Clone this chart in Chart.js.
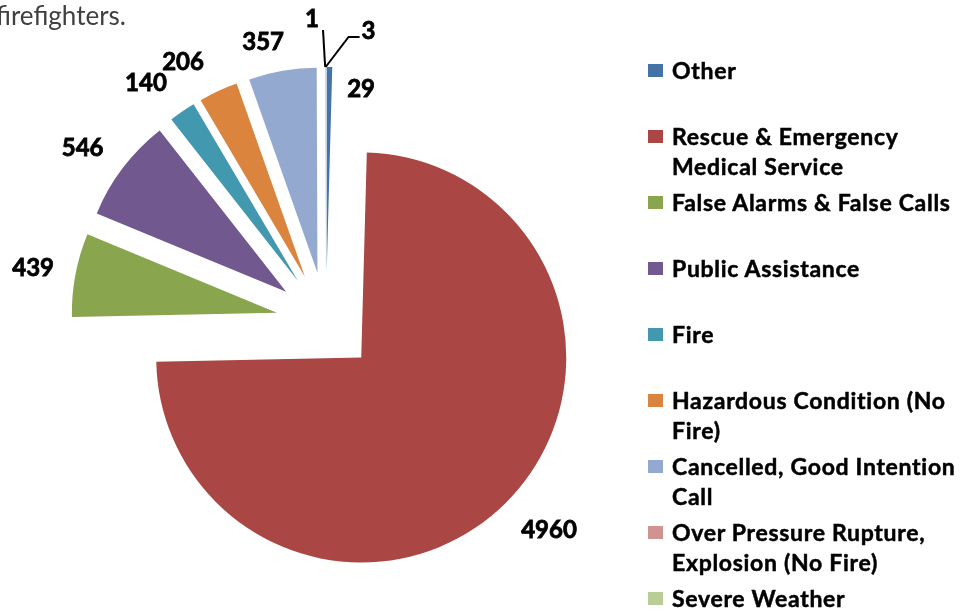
<!DOCTYPE html>
<html>
<head>
<meta charset="utf-8">
<script src="https://cdn.jsdelivr.net/npm/chart.js@4.4.1/dist/chart.umd.min.js"></script>
<style>
  html, body { margin: 0; padding: 0; background: #fff; }
  #wrap { position: relative; width: 971px; height: 610px; overflow: hidden; }
  #pieChart { position: absolute; left: 0; top: 0; }
  #note { position: absolute; left: -4px; top: 0; font: 26px/30px Lato, sans-serif; color: #404040; white-space: nowrap; }
  #legend { position: absolute; left: 648px; top: 0; font: bold 23px/30px Lato, sans-serif; color: #000; letter-spacing: 0.7px; -webkit-text-stroke: 0.5px #000; }
  .item { position: absolute; left: 0; }
  .box { position: absolute; left: 0; top: 9px; width: 15px; height: 13px; }
  .txt { position: absolute; left: 24px; top: 0; white-space: nowrap; }
</style>
</head>
<body>
<div id="wrap">
  <canvas id="pieChart" width="971" height="610"></canvas>
  <div id="note">firefighters.</div>
  <div id="legend"></div>
</div>
<script>
// Dados do gráfico
const categories = [
  'Other',
  ['Rescue & Emergency', 'Medical Service'],
  'False Alarms & False Calls',
  'Public Assistance',
  'Fire',
  ['Hazardous Condition (No', 'Fire)'],
  ['Cancelled, Good Intention', 'Call'],
  ['Over Pressure Rupture,', 'Explosion (No Fire)'],
  'Severe Weather'
];
const incidents = [29, 4960, 439, 546, 140, 206, 357, 1, 3];
const sliceColors = ['#4572A7', '#AA4643', '#89A54E', '#71588F', '#4198AF', '#DB843D', '#93A9CF', '#D19392', '#B9CD96'];

// Ajustes de posição dos rótulos (px)
const labelNudge = [[31, 65], [13, -3], [0, 1], [-6, 6], [-12, 7], [-17, 10], [-12, 14], [-13, -5], [43, 7]];
const explode = 50;

// Fatias "explodidas": desloca cada arco ao longo da bissetriz
const explodePlugin = {
  id: 'explode',
  afterDatasetUpdate(chart, args) {
    const area = chart.chartArea;
    const cx = (area.left + area.right) / 2;
    const cy = (area.top + area.bottom) / 2;
    args.meta.data.forEach(arc => {
      const mid = (arc.startAngle + arc.endAngle) / 2;
      arc.x = cx + Math.cos(mid) * explode;
      arc.y = cy + Math.sin(mid) * explode;
    });
  }
};

// Rótulos de valor com linhas de chamada para as fatias mínimas
const labelPlugin = {
  id: 'valueLabels',
  afterDatasetsDraw(chart) {
    const ctx = chart.ctx;
    const area = chart.chartArea;
    const cx = (area.left + area.right) / 2;
    const cy = (area.top + area.bottom) / 2;
    const meta = chart.getDatasetMeta(0);
    ctx.save();
    ctx.font = 'bold 24px Lato, sans-serif';
    ctx.fillStyle = '#000';
    ctx.strokeStyle = '#000';
    ctx.textAlign = 'center';
    ctx.textBaseline = 'middle';
    meta.data.forEach((arc, i) => {
      const mid = (arc.startAngle + arc.endAngle) / 2;
      const d = arc.outerRadius + explode + 43;
      const x = cx + Math.cos(mid) * d + labelNudge[i][0];
      const y = cy + Math.sin(mid) * d + labelNudge[i][1];
      const tipX = cx + Math.cos(mid) * (arc.outerRadius + explode);
      const tipY = cy + Math.sin(mid) * (arc.outerRadius + explode);
      ctx.lineWidth = 2;
      if (i === 7) {
        ctx.beginPath();
        ctx.moveTo(tipX, tipY);
        ctx.lineTo(x + 11, y + 11);
        ctx.stroke();
      } else if (i === 8) {
        ctx.beginPath();
        ctx.moveTo(tipX, tipY);
        ctx.lineTo(x - 20, y + 6);
        ctx.lineTo(x - 9, y + 6);
        ctx.stroke();
      }
      ctx.lineWidth = 0.8;
      ctx.fillText(String(incidents[i]), x, y);
      ctx.strokeText(String(incidents[i]), x, y);
    });
    ctx.restore();
  }
};

const ctx = document.getElementById('pieChart').getContext('2d');
const pieChart = new Chart(ctx, {
  type: 'pie',
  data: {
    labels: categories,
    datasets: [{
      label: 'Incidents',
      data: incidents,
      backgroundColor: sliceColors,
      borderWidth: 0,
      hoverOffset: 0
    }]
  },
  options: {
    responsive: false,
    animation: false,
    events: [],
    layout: {
      padding: { left: 121, top: 117, right: 440, bottom: 83 }
    },
    plugins: {
      legend: { display: false },
      tooltip: { enabled: false }
    }
  },
  plugins: [explodePlugin, labelPlugin]
});

// Legenda em HTML
const legend = document.getElementById('legend');
categories.forEach((cat, i) => {
  const lines = Array.isArray(cat) ? cat : [cat];
  const item = document.createElement('div');
  item.className = 'item';
  item.style.top = (55 + 66 * i) + 'px';
  const box = document.createElement('div');
  box.className = 'box';
  box.style.background = sliceColors[i];
  const txt = document.createElement('div');
  txt.className = 'txt';
  txt.innerHTML = lines.join('<br>');
  item.appendChild(box);
  item.appendChild(txt);
  legend.appendChild(item);
});
</script>
</body>
</html>
